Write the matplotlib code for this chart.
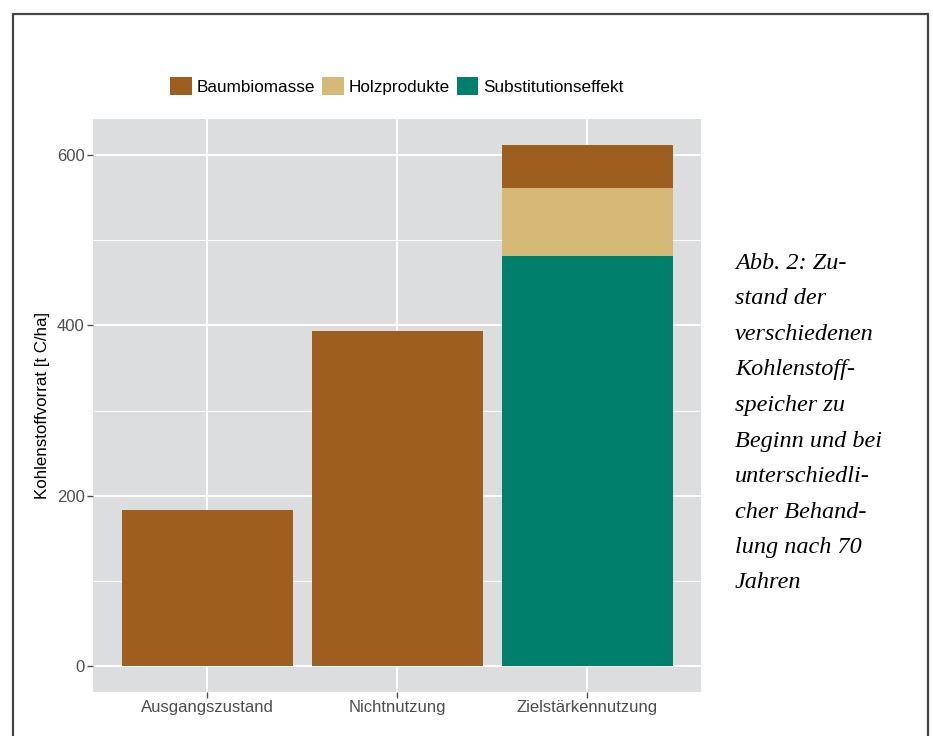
"""
Kohlenstoffvorrat chart: stacked bars for the carbon pools at the start
and after 70 years of different forest treatments.
"""

import matplotlib
matplotlib.use("Agg")
import matplotlib.pyplot as plt
from matplotlib.patches import Patch, Rectangle
from matplotlib.ticker import MultipleLocator

categories = ["Ausgangszustand", "Nichtnutzung", "Zielstärkennutzung"]
substitution = [0, 0, 482]
holzprodukte = [0, 0, 80]
baumbiomasse = [183, 393, 50]

series_names = ["Baumbiomasse", "Holzprodukte", "Substitutionseffekt"]
series_colors = ["#9E5E1F", "#D6B877", "#007F6C"]

y_ticks = [0, 200, 400, 600]

caption_lines = [
    "Abb. 2: Zu-",
    "stand der",
    "verschiedenen",
    "Kohlenstoff-",
    "speicher zu",
    "Beginn und bei",
    "unterschiedli-",
    "cher Behand-",
    "lung nach 70",
    "Jahren",
]

W, H = 933, 736
plt.rcParams["font.family"] = ["Liberation Sans", "DejaVu Sans"]

fig = plt.figure(figsize=(W / 100, H / 100), dpi=100)
fig.patch.set_facecolor("white")

# panel position in pixels
left, top, right, bottom = 93, 119, 701, 692
ax = fig.add_axes([left / W, 1 - bottom / H, (right - left) / W, (bottom - top) / H])
ax.set_facecolor("#DCDDDF")

x = range(len(categories))
# stacking order: substitution at bottom, then wood products, then tree biomass
bottom_vals = [0] * len(categories)
stack = [
    (substitution, series_colors[2]),
    (holzprodukte, series_colors[1]),
    (baumbiomasse, series_colors[0]),
]
for vals, color in stack:
    ax.bar(x, vals, width=0.9, bottom=bottom_vals, color=color, zorder=3)
    bottom_vals = [b + v for b, v in zip(bottom_vals, vals)]

total_max = max(bottom_vals)
pad = total_max * 0.05
ax.set_ylim(-pad, total_max + pad)
ax.set_xlim(-0.6, len(categories) - 0.4)

ax.set_xticks(list(x))
ax.set_xticklabels(categories)
ax.set_yticks(y_ticks)
ax.yaxis.set_minor_locator(MultipleLocator(100))

ax.grid(which="major", color="white", linewidth=1.4, zorder=1)
ax.grid(which="minor", axis="y", color="white", linewidth=0.7, zorder=1)

for s in ax.spines.values():
    s.set_visible(False)

ax.tick_params(axis="both", which="major", length=4, width=1, color="#4D4D4D",
               labelcolor="#4D4D4D", labelsize=12, pad=2)
ax.tick_params(axis="both", which="minor", length=0)

ax.set_ylabel("Kohlenstoffvorrat [t C/ha]", fontsize=12.2, color="black", labelpad=5)

handles = [Patch(facecolor=c, edgecolor="none") for c in series_colors]
fig.legend(handles, series_names, loc="center", bbox_to_anchor=(397 / W, 1 - 86 / H),
           ncol=3, frameon=False, fontsize=12.3, handlelength=1.25, handleheight=1.25,
           handletextpad=0.3, columnspacing=0.4)

# caption in italic serif on the right
for i, line in enumerate(caption_lines):
    fig.text(735 / W, 1 - (269 + i * 35.5) / H, line, fontsize=17.5, style="italic",
             family=["Liberation Serif", "DejaVu Serif"], va="baseline", ha="left")

# outer frame (left, top and right sides)
frame = Rectangle((12.5 / W, -0.05), (928 - 12.5) / W, 1.05 - 13.5 / H,
                  transform=fig.transFigure, fill=False, edgecolor="#444444",
                  linewidth=1.6, clip_on=False)
fig.patches.append(frame)

fig.savefig("out.png", dpi=100)
